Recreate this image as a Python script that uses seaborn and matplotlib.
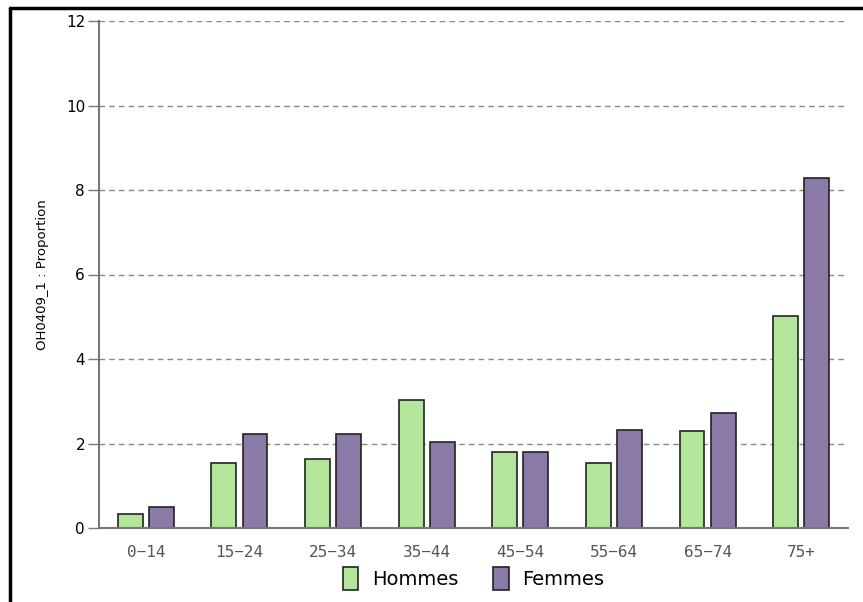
import matplotlib
matplotlib.use("Agg")
import matplotlib.pyplot as plt
import seaborn as sns
import pandas as pd
from matplotlib.lines import Line2D

# données
age_groups = ["0−14", "15−24", "25−34", "35−44", "45−54", "55−64", "65−74", "75+"]
hommes = [0.33, 1.54, 1.63, 3.03, 1.80, 1.54, 2.30, 5.02]
femmes = [0.50, 2.22, 2.22, 2.04, 1.80, 2.32, 2.72, 8.28]
series = ["Hommes", "Femmes"]
colors = ["#b3e59a", "#8b7aa8"]

df = pd.DataFrame({
    "age": age_groups * 2,
    "value": hommes + femmes,
    "sexe": [series[0]] * len(hommes) + [series[1]] * len(femmes),
})

sns.set_theme(style="white")
plt.rcParams['font.family'] = ['DejaVu Sans']

fig = plt.figure(figsize=(8.63, 6.02), dpi=100)
ax = fig.add_axes([99 / 863, 1 - 528 / 602, (848 - 99) / 863, (528 - 21) / 602])

sns.barplot(data=df, x="age", y="value", hue="sexe", order=age_groups,
            hue_order=series, palette=colors, width=0.664, gap=0.2,
            edgecolor="#222222", linewidth=1.2, saturation=1, ax=ax)

ax.set_ylim(0, 12)
ax.set_xlim(-0.5, 7.5)
ax.set_yticks(range(0, 13, 2))
ax.yaxis.grid(True, linestyle=(0, (4, 3)), color="#888888", linewidth=1)
ax.set_axisbelow(True)

for s in ["top", "right"]:
    ax.spines[s].set_visible(False)
for s in ["left", "bottom"]:
    ax.spines[s].set_color("#777777")
    ax.spines[s].set_linewidth(1.5)

ax.tick_params(axis="y", left=True, length=8, width=1, color="#777777",
               labelsize=11, labelcolor="black", pad=2)
ax.tick_params(axis="x", bottom=False, labelsize=11.5, labelcolor="#555555", pad=6)
for lbl in ax.get_xticklabels():
    lbl.set_family("DejaVu Sans Mono")

ax.set_xlabel("")
ax.set_ylabel("OH0409_1 : Proportion", fontsize=9.5, color="black", labelpad=12)

leg = ax.legend(title=None, loc="center", bbox_to_anchor=(0.5, -0.1), ncol=2,
                frameon=False, fontsize=14, handlelength=0.8, handleheight=1.4,
                columnspacing=1.8, handletextpad=0.7)
for t in leg.get_texts():
    t.set_color("black")

# cadre noir en haut et à gauche
fig.add_artist(Line2D([10 / 863, 1], [1 - 8 / 602, 1 - 8 / 602], color="black", linewidth=2.5))
fig.add_artist(Line2D([10 / 863, 10 / 863], [0, 1 - 8 / 602], color="black", linewidth=2.5))

fig.savefig("out.png", dpi=100)
